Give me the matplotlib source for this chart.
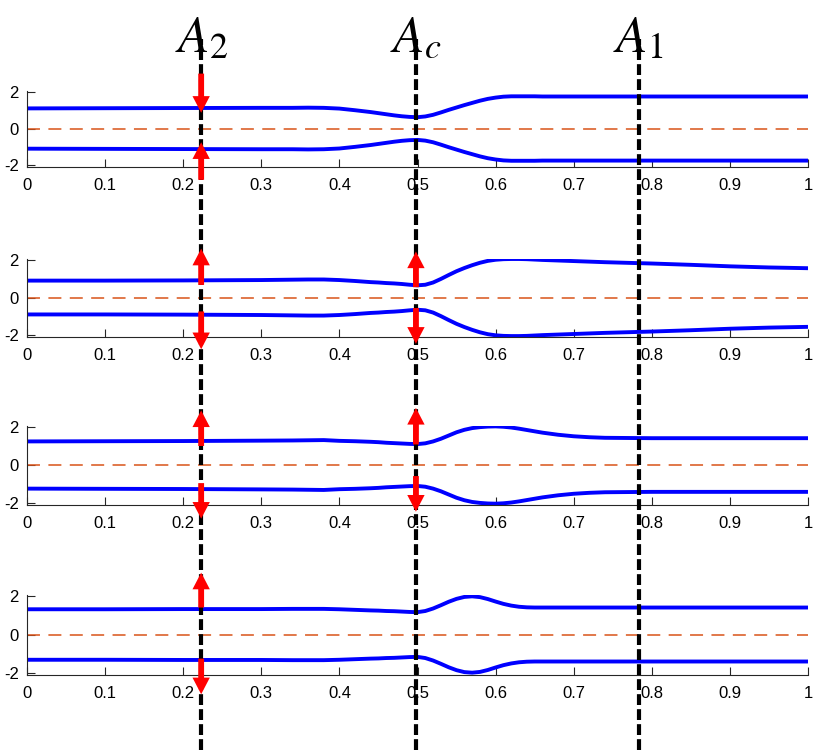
import matplotlib
matplotlib.use('Agg')
import matplotlib.pyplot as plt
from matplotlib.lines import Line2D
from matplotlib.text import Annotation
from matplotlib.transforms import blended_transform_factory

plt.rcParams['font.family'] = ['Liberation Sans', 'DejaVu Sans']
plt.rcParams['mathtext.fontset'] = 'stix'
plt.rcParams['axes.unicode_minus'] = False


### DATA ###
x = [0, 0.1, 0.2, 0.3, 0.34, 0.36, 0.38, 0.40, 0.42,
     0.44, 0.45, 0.46, 0.47, 0.48, 0.49, 0.50, 0.51, 0.52, 0.53, 0.54, 0.55,
     0.56, 0.57, 0.58, 0.59, 0.60, 0.61, 0.62, 0.63, 0.64, 0.65, 0.66,
     0.68, 0.70, 0.72, 0.74, 0.80, 0.85, 0.90, 0.95, 1.0]

upper_1 = [1.10, 1.11, 1.12, 1.13, 1.13, 1.14, 1.13, 1.09, 1.00,
           0.90, 0.84, 0.78, 0.72, 0.67, 0.635, 0.62, 0.66, 0.75, 0.88, 1.02, 1.15,
           1.28, 1.40, 1.52, 1.62, 1.69, 1.74, 1.76, 1.76, 1.76, 1.76, 1.75,
           1.75, 1.75, 1.75, 1.75, 1.75, 1.75, 1.75, 1.75, 1.75]

upper_2 = [0.90, 0.90, 0.91, 0.93, 0.95, 0.96, 0.96, 0.93, 0.88,
           0.82, 0.80, 0.77, 0.75, 0.72, 0.68, 0.65, 0.68, 0.80, 0.99, 1.20, 1.40,
           1.57, 1.72, 1.85, 1.95, 2.01, 2.04, 2.05, 2.05, 2.04, 2.02, 2.00,
           1.97, 1.94, 1.91, 1.88, 1.81, 1.74, 1.66, 1.60, 1.56]

upper_3 = [1.24, 1.25, 1.26, 1.28, 1.29, 1.30, 1.31, 1.27, 1.25,
           1.22, 1.20, 1.17, 1.15, 1.13, 1.11, 1.10, 1.14, 1.24, 1.38, 1.55, 1.72,
           1.85, 1.94, 1.99, 2.02, 2.03, 2.01, 1.97, 1.91, 1.84, 1.77, 1.70,
           1.59, 1.51, 1.46, 1.43, 1.41, 1.41, 1.41, 1.41, 1.41]

upper_4 = [1.31, 1.31, 1.32, 1.32, 1.33, 1.33, 1.33, 1.31, 1.28,
           1.25, 1.24, 1.22, 1.21, 1.19, 1.17, 1.16, 1.22, 1.35, 1.52, 1.70, 1.85,
           1.95, 1.98, 1.94, 1.84, 1.71, 1.59, 1.50, 1.44, 1.41, 1.40, 1.40,
           1.40, 1.40, 1.40, 1.40, 1.40, 1.40, 1.40, 1.40, 1.40]

upper_sets = [upper_1, upper_2, upper_3, upper_4]

x_ticks = [0, 0.1, 0.2, 0.3, 0.4, 0.5, 0.6, 0.7, 0.8, 0.9, 1]
x_ticklabels = ['0', '0.1', '0.2', '0.3', '0.4', '0.5', '0.6', '0.7', '0.8', '0.9', '1']
y_ticks = [-2, 0, 2]
y_ticklabels = ['-2', '0', '2']

marker_x = [0.223, 0.498, 0.783]
marker_labels = [r'$A_2$', r'$A_c$', r'$A_1$']

# red arrows: panel index, x, tail y, tip y
arrow_panel = [0, 0, 1, 1, 1, 1, 2, 2, 2, 2, 3, 3]
arrow_x = [0.223, 0.223, 0.223, 0.223, 0.498, 0.498,
           0.223, 0.223, 0.498, 0.498, 0.223, 0.223]
arrow_tail = [3.0, -2.8, 0.67, -0.74, 0.55, -0.56,
              1.0, -0.95, 1.08, -0.58, 1.4, -1.25]
arrow_tip = [0.86, -0.75, 2.6, -2.75, 2.45, -2.46,
             2.87, -2.82, 3.0, -2.45, 3.21, -3.1]


### FIGURE ###
fig = plt.figure(figsize=(8.14, 7.5), dpi=100)

# axes boxes in pixels from top: (top, bottom)
panel_px = [(91, 167), (259, 337), (426, 505), (595, 675)]
left = 27 / 814
width = 781 / 814

axes = []
for i, (top, bottom) in enumerate(panel_px):
    ax = fig.add_axes([left, 1 - bottom / 750, width, (bottom - top) / 750])
    ax.set_facecolor('none')

    up = upper_sets[i]
    ax.plot(x, up, color='#0000ff', lw=2.8, solid_capstyle='butt')
    ax.plot(x, [-v for v in up], color='#0000ff', lw=2.8, solid_capstyle='butt')
    ax.axhline(0, color='#d95319', lw=1.1, linestyle=(0, (8.5, 5.5)))

    ax.set_xlim(0, 1)
    ax.set_ylim(-2.1, 2.05)
    ax.set_xticks(x_ticks)
    ax.set_xticklabels(x_ticklabels)
    ax.set_yticks(y_ticks)
    ax.set_yticklabels(y_ticklabels)

    for side in ['top', 'right']:
        ax.spines[side].set_visible(False)
    for side in ['left', 'bottom']:
        ax.spines[side].set_color('#262626')
        ax.spines[side].set_linewidth(0.8)

    ax.tick_params(direction='in', length=5.5, width=0.8, color='#262626',
                   labelsize=12, labelcolor='black')
    ax.tick_params(axis='x', pad=8)
    ax.tick_params(axis='y', pad=6)
    axes.append(ax)


### VERTICAL MARKERS ###
trans = blended_transform_factory(axes[0].transData, fig.transFigure)

for xv, lab in zip(marker_x, marker_labels):
    fig.add_artist(Line2D([xv, xv], [0, 0.948], transform=trans, color='black',
                          lw=3, linestyle=(0, (2.6, 1.0)), zorder=2.5))
    fig.text(xv, 0.93, lab, transform=trans, ha='center', va='baseline',
             fontsize=37, zorder=2.6)


### RED ARROWS ###
for p, xa, y0, y1 in zip(arrow_panel, arrow_x, arrow_tail, arrow_tip):
    ax = axes[p]
    arr = Annotation('', xy=(xa, y1), xytext=(xa, y0),
                     xycoords=ax.transData, textcoords=ax.transData,
                     arrowprops=dict(width=4.2, headwidth=12.5, headlength=12,
                                     color='red', shrink=0, lw=0))
    arr.set_zorder(3)
    fig.add_artist(arr)


fig.savefig('out.png', dpi=100)
